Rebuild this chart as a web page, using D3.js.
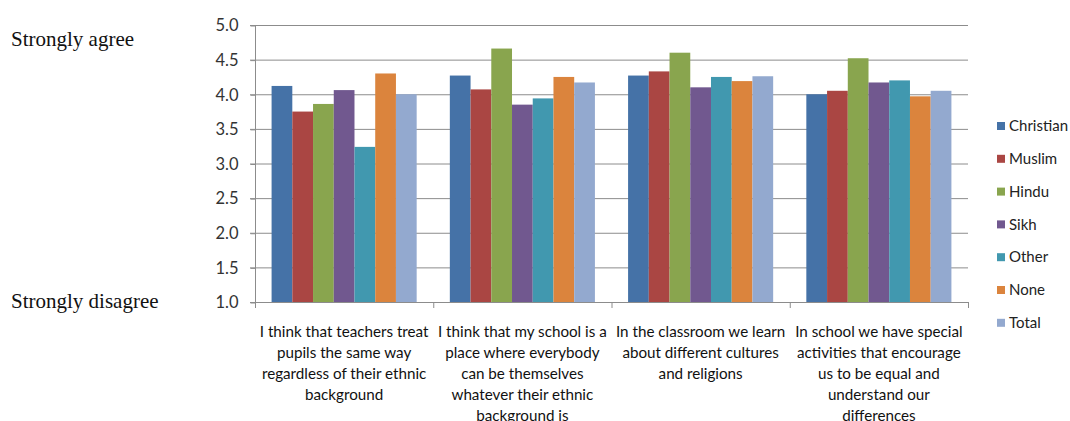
<!DOCTYPE html>
<html>
<head>
<meta charset="utf-8">
<script src="https://cdn.jsdelivr.net/npm/d3@7/dist/d3.min.js"></script>
<style>
  html, body { margin: 0; padding: 0; background: #fff; }
  svg { display: block; }
</style>
</head>
<body>
<svg id="chart" width="1070" height="421"></svg>
<script>
const categories = [
  ["I think that teachers treat", "pupils the same way", "regardless of their ethnic", "background"],
  ["I think that my school is a", "place where everybody", "can be themselves", "whatever their ethnic", "background is"],
  ["In the classroom we learn", "about different cultures", "and religions"],
  ["In school we have special", "activities that encourage", "us to be  equal and", "understand our", "differences"]
];
const seriesNames = ["Christian", "Muslim", "Hindu", "Sikh", "Other", "None", "Total"];
const christian = [4.12, 4.27, 4.27, 4.00];
const muslim    = [3.75, 4.07, 4.33, 4.05];
const hindu     = [3.86, 4.66, 4.60, 4.52];
const sikh      = [4.06, 3.85, 4.10, 4.17];
const other     = [3.24, 3.94, 4.25, 4.20];
const none      = [4.30, 4.25, 4.19, 3.97];
const total     = [4.00, 4.17, 4.26, 4.05];
const seriesValues = [christian, muslim, hindu, sikh, other, none, total];
const colors = ["#4572A7", "#AA4643", "#89A54E", "#71588F", "#4198AF", "#DB843D", "#93A9CF"];
const yTicks = [1.0, 1.5, 2.0, 2.5, 3.0, 3.5, 4.0, 4.5, 5.0];

(function () {
const svg = d3.select("#chart");
const pl = 255, pr = 968, pt = 25, pb = 302;

const x0 = d3.scaleBand().domain(d3.range(categories.length)).range([pl, pr]).paddingInner(0).paddingOuter(0);
const x1 = d3.scaleBand().domain(seriesNames).range([0, x0.bandwidth()]).paddingInner(0).paddingOuter(0.8);
const y = d3.scaleLinear().domain([1, 5]).range([pb, pt]);

// gridlines
svg.append("g").selectAll("line").data(yTicks.filter(t => t > 1)).join("line")
  .attr("x1", pl - 5).attr("x2", pr)
  .attr("y1", d => y(d) + 0.5).attr("y2", d => y(d) + 0.5)
  .attr("stroke", "#8c8c8c").attr("stroke-width", 1);

// bars
const groups = svg.append("g").selectAll("g").data(categories).join("g")
  .attr("transform", (d, i) => `translate(${x0(i)},0)`);
groups.selectAll("rect").data((d, i) => seriesNames.map((s, k) => ({ s, k, v: seriesValues[k][i] })))
  .join("rect")
  .attr("x", d => x1(d.s)).attr("width", x1.bandwidth())
  .attr("y", d => y(d.v)).attr("height", d => y(1) - y(d.v))
  .attr("fill", d => colors[d.k]);

// y axis
const yAxis = d3.axisLeft(y).tickValues(yTicks).tickFormat(d3.format(".1f")).tickSize(5).tickPadding(12);
const gy = svg.append("g").attr("transform", `translate(${pl + 0.5},0.5)`).call(yAxis);
gy.select(".domain").attr("stroke", "#8c8c8c").attr("d", `M0,${pt}V${pb}`);
gy.selectAll(".tick line").attr("stroke", "#8c8c8c");
gy.selectAll(".tick text").attr("font-family", "Lato, sans-serif").attr("font-size", 16.5).attr("fill", "#333");

// x axis line and ticks
svg.append("line").attr("x1", pl - 5).attr("x2", pr).attr("y1", pb + 0.5).attr("y2", pb + 0.5)
  .attr("stroke", "#8c8c8c");
svg.append("g").selectAll("line").data(d3.range(categories.length + 1)).join("line")
  .attr("x1", i => (i < categories.length ? x0(i) : pr) + 0.5)
  .attr("x2", i => (i < categories.length ? x0(i) : pr) + 0.5)
  .attr("y1", pb).attr("y2", pb + 6).attr("stroke", "#8c8c8c");

// category labels
const cl = svg.append("g").selectAll("text").data(categories).join("text")
  .attr("font-family", "Lato, sans-serif").attr("font-size", 15.2).attr("fill", "#111")
  .attr("text-anchor", "middle")
  .attr("x", (d, i) => x0(i) + x0.bandwidth() / 2)
  .attr("y", 337);
cl.selectAll("tspan").data(d => d).join("tspan")
  .attr("x", function() { return this.parentNode.getAttribute("x"); })
  .attr("dy", (d, j) => j === 0 ? 0 : 21)
  .text(d => d);

// legend
const lg = svg.append("g").selectAll("g").data(seriesNames).join("g")
  .attr("transform", (d, i) => `translate(997,${126 + i * 32.8})`);
lg.append("rect").attr("x", 0).attr("y", -4).attr("width", 8).attr("height", 8).attr("fill", (d, i) => colors[i]);
lg.append("text").attr("x", 12).attr("y", 0).attr("dy", "0.35em")
  .attr("font-family", "Lato, sans-serif").attr("font-size", 15).attr("fill", "#222").text(d => d);

// side labels
svg.append("text").attr("x", 11).attr("y", 46).attr("font-family", "'Liberation Serif', serif").attr("font-size", 21).attr("fill", "#111").text("Strongly agree");
svg.append("text").attr("x", 11).attr("y", 308).attr("font-family", "'Liberation Serif', serif").attr("font-size", 21).attr("fill", "#111").text("Strongly disagree");
})();
</script>
</body>
</html>
